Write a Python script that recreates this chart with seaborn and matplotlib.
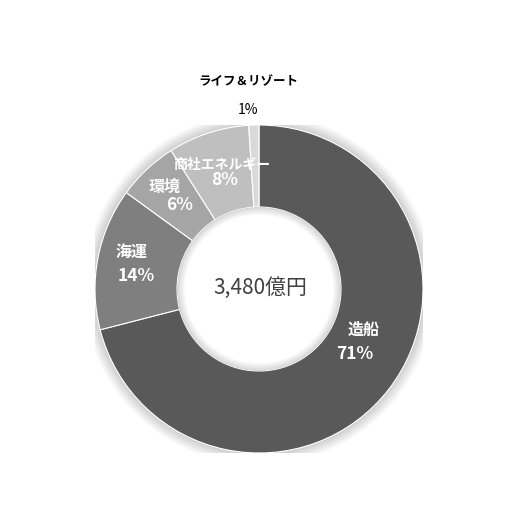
import numpy as np
import matplotlib
matplotlib.use('Agg')
import matplotlib.pyplot as plt
from matplotlib.patches import Circle, Wedge
import seaborn as sns

# Data
segments = ['造船', '海運', '環境', '商社エネルギー', 'ライフ＆リゾート']
shares = [71, 14, 6, 8, 1]
pct_labels = ['71%', '14%', '6%', '8%', '1%']
total_label = '3,480億円'

# Styles
colors = ['#595959', '#7f7f7f', '#a5a5a5', '#bfbfbf', '#d9d9d9']
sns.set_style('white')
plt.rcParams['font.family'] = ['Noto Sans CJK JP', 'DejaVu Sans']

fig = plt.figure(figsize=(5.18, 5.18), dpi=100)
fig.patch.set_facecolor('white')
r_ax = 164 / 518
cx, cy = 259 / 518, 1 - 289 / 518
ax = fig.add_axes([cx - r_ax, cy - r_ax, 2 * r_ax, 2 * r_ax])

# soft glow behind the ring
for k in range(12):
    ax.add_patch(Circle((0, 0), 1 + 0.006 * (k + 1), color='black',
                        alpha=0.016, lw=0, zorder=0))

wedges, _ = ax.pie(shares, colors=colors, startangle=90, counterclock=False,
                   wedgeprops=dict(width=0.5, edgecolor='white', linewidth=0.8))
for w in wedges:
    w.set_zorder(2)

# white hole with faint inner shadow
ax.add_patch(Circle((0, 0), 0.5, color='white', lw=0, zorder=3))
for k in range(8):
    ax.add_patch(Wedge((0, 0), 0.5, 0, 360, width=0.006 * (k + 1), color='black',
                       alpha=0.02, lw=0, zorder=4))

ax.set_xlim(-1, 1)
ax.set_ylim(-1, 1)
ax.set_aspect('equal')
ax.axis('off')

# label placement (data coords): name position, pct position
name_pos = [(0.640, -0.250), (-0.780, 0.226), (-0.573, 0.622), (-0.226, 0.755), (-0.067, 1.262)]
pct_pos = [(0.585, -0.396), (-0.750, 0.079), (-0.482, 0.512), (-0.207, 0.665), (-0.067, 1.091)]
name_size = [11.5, 11.5, 11.5, 10, 9]
txt_color = ['white', 'white', 'white', 'white', 'black']

for i, seg in enumerate(segments):
    ax.text(*name_pos[i], seg, ha='center', va='center', color=txt_color[i],
            fontsize=name_size[i], fontweight='bold', zorder=6)
    ax.text(*pct_pos[i], pct_labels[i], ha='center', va='center', color=txt_color[i],
            fontsize=12.5 if i < 4 else 10, fontweight='bold' if i < 4 else 'normal', zorder=6)

ax.text(0.01, 0.005, total_label, ha='center', va='center', color='#404040',
        fontsize=15, zorder=6)

fig.savefig('out.png', dpi=100)
